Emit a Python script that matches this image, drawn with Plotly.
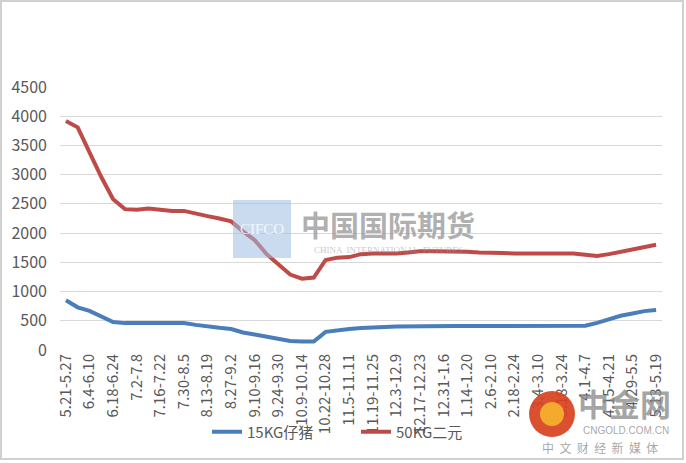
import plotly.graph_objects as go

# Weekly periods (May to May)
weeks = [
    "5.21-5.27", "5.28-6.3", "6.4-6.10", "6.11-6.17", "6.18-6.24", "6.25-7.1",
    "7.2-7.8", "7.9-7.15", "7.16-7.22", "7.23-7.29", "7.30-8.5", "8.6-8.12",
    "8.13-8.19", "8.20-8.26", "8.27-9.2", "9.3-9.9", "9.10-9.16", "9.17-9.23",
    "9.24-9.30", "10.1-10.8", "10.9-10.14", "10.15-10.21", "10.22-10.28", "10.29-11.4",
    "11.5-11.11", "11.12-11.18", "11.19-11.25", "11.26-12.2", "12.3-12.9", "12.10-12.16",
    "12.17-12.23", "12.24-12.30", "12.31-1.6", "1.7-1.13", "1.14-1.20", "1.21-2.5",
    "2.6-2.10", "2.11-2.17", "2.18-2.24", "2.25-3.3", "3.4-3.10", "3.11-3.17",
    "3.18-3.24", "3.25-3.31", "4.1-4.7", "4.8-4.14", "4.15-4.21", "4.22-4.28",
    "4.29-5.5", "5.6-5.12", "5.13-5.19",
]

piglet_15kg = [
    850, 730, 670, 570, 480, 460, 460, 460, 460, 460,
    460, 430, 400, 380, 360, 300, 265, 230, 185, 155,
    145, 145, 310, 340, 360, 375, 390, 395, 400, 405,
    410, 410, 410, 410, 410, 410, 410, 410, 410, 410,
    410, 410, 410, 410, 415, 465, 530, 585, 625, 665,
    684,
]

sow_50kg = [
    3920, 3810, 3380, 2960, 2580, 2410, 2400, 2420, 2400, 2380,
    2380, 2330, 2290, 2250, 2200, 2030, 1880, 1640, 1460, 1290,
    1220, 1240, 1540, 1580, 1590, 1640, 1650, 1650, 1650, 1670,
    1690, 1690, 1690, 1690, 1680, 1670, 1670, 1660, 1650, 1650,
    1650, 1650, 1650, 1650, 1630, 1610, 1640, 1680, 1730, 1770,
    1800,
]

y_ticks = [0, 500, 1000, 1500, 2000, 2500, 3000, 3500, 4000, 4500]

x_idx = list(range(len(weeks)))
label_idx = x_idx[::2]
label_txt = [weeks[i] for i in label_idx]

fig = go.Figure()
fig.add_trace(go.Scatter(
    x=x_idx, y=piglet_15kg, mode="lines", name="15KG仔猪",
    line=dict(color="#4A7EBB", width=4),
))
fig.add_trace(go.Scatter(
    x=x_idx, y=sow_50kg, mode="lines", name="50KG二元",
    line=dict(color="#BE4B48", width=4),
))

L, T, R, B = 60, 87, 662, 350
W, H = 686, 463
pw, ph = R - L, B - T


def px(x):
    return (x - L) / pw


def py(y):
    return (B - y) / ph


shapes = [
    # outer chart border
    dict(type="rect", xref="paper", yref="paper",
         x0=px(1), x1=px(683), y0=py(1), y1=py(459),
         line=dict(color="#D0D0D0", width=2), fillcolor="rgba(0,0,0,0)", layer="below"),
    # CIFCO logo block
    dict(type="rect", xref="paper", yref="paper",
         x0=px(233), x1=px(291), y0=py(200), y1=py(258),
         line=dict(width=0), fillcolor="rgba(160,190,225,0.55)", layer="above"),
    # cngold emblem
    dict(type="circle", xref="paper", yref="paper",
         x0=px(529), x1=px(575), y0=py(391), y1=py(437),
         line=dict(width=0), fillcolor="rgba(215,65,30,0.92)", layer="above"),
    dict(type="circle", xref="paper", yref="paper",
         x0=px(540), x1=px(564), y0=py(402), y1=py(426),
         line=dict(width=0), fillcolor="rgba(245,175,45,0.95)", layer="above"),
]


def note(text, x, y, size, color, family):
    return dict(text=text, x=px(x), y=py(y), xref="paper", yref="paper",
                xanchor="center", yanchor="middle", showarrow=False,
                font=dict(size=size, color=color, family=family))


annotations = [
    note("CIFCO", 262, 229, 15, "rgba(255,255,255,0.8)", "Liberation Serif"),
    note("<b>中国国际期货</b>", 388, 224, 29, "rgba(150,150,150,0.75)", "Noto Sans CJK SC"),
    note("CHINA  INTERNATIONAL  FUTURES", 388, 250, 9, "rgba(150,150,150,0.55)",
         "Liberation Serif"),
    note("<b>中金网</b>", 624, 402, 31, "rgba(140,140,140,0.8)", "Noto Sans CJK SC"),
    note("CNGOLD.COM.CN", 626, 430, 10, "rgba(150,150,150,0.85)", "Liberation Sans"),
    note("中  文  财  经  新  媒  体", 600, 447, 12, "rgba(150,150,150,0.85)",
         "Noto Sans CJK SC"),
]

fig.update_layout(
    width=W, height=H,
    margin=dict(l=L, r=W - R, t=T, b=H - B),
    paper_bgcolor="white", plot_bgcolor="white",
    font=dict(family="Noto Sans CJK SC", color="#595959"),
    showlegend=True,
    legend=dict(orientation="h", x=px(207), y=py(432), xanchor="left", yanchor="middle",
                font=dict(size=15, color="#595959"), bgcolor="rgba(0,0,0,0)",
                entrywidth=104, itemwidth=30),
    xaxis=dict(
        range=[-0.5, len(weeks) - 0.5], tickmode="array",
        tickvals=label_idx, ticktext=label_txt, tickangle=-90,
        tickfont=dict(size=15, color="#595959"), showgrid=False,
        showline=False, zeroline=False, ticks="",
    ),
    yaxis=dict(
        range=[0, 4500], tickmode="array", tickvals=y_ticks,
        tickfont=dict(size=16, color="#595959"), showgrid=True,
        gridcolor="#D9D9D9", gridwidth=1, zeroline=False, showline=False,
        ticks="", ticklabelstandoff=12,
    ),
    shapes=shapes, annotations=annotations,
)

fig.write_html("out.html")
